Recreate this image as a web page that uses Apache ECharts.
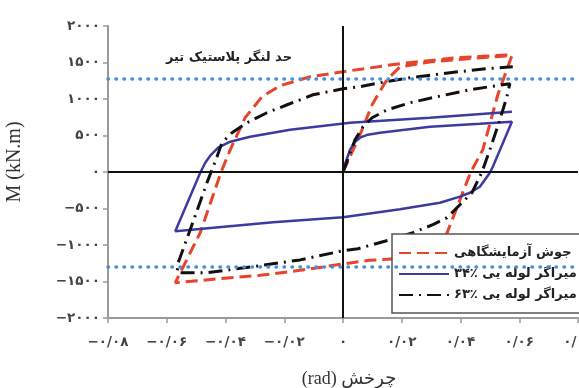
<!DOCTYPE html>
<html>
<head>
<meta charset="utf-8">
<script src="https://cdn.jsdelivr.net/npm/echarts@6/dist/echarts.min.js"></script>
<style>
  html, body { margin: 0; padding: 0; background: #fff; }
  #chart { width: 579px; height: 388px; }
</style>
</head>
<body>
<div id="chart"></div>
<script>
// Axis tick labels (Persian digits)
const xTickValues = [-0.08, -0.06, -0.04, -0.02, 0, 0.02, 0.04, 0.06, 0.08];
const xTickLabels = ['−۰/۰۸', '−۰/۰۶', '−۰/۰۴', '−۰/۰۲', '۰', '۰/۰۲', '۰/۰۴', '۰/۰۶', '۰/۰۸'];
const yTickValues = [-2000, -1500, -1000, -500, 0, 500, 1000, 1500, 2000];
const yTickLabels = ['−۲۰۰۰', '−۱۵۰۰', '−۱۰۰۰', '−۵۰۰', '۰', '۵۰۰', '۱۰۰۰', '۱۵۰۰', '۲۰۰۰'];

// Series names
const seriesNames = ['جوش آزمایشگاهی', 'میراگر لوله یی ٪۳۴', 'میراگر لوله یی ٪۶۳'];

// Welded connection (test): rotation (rad) and moment (kN.m)
const weldRot = [0, 0.0058, 0.0099, 0.0143, 0.0167, 0.0194, 0.03, 0.045, 0.0575,
  0.0527, 0.0476, 0.0435, 0.0354, 0.032, 0.029, 0.025, 0.015, 0.009, 0, -0.0146, -0.0282, -0.0442, -0.0571,
  -0.0486, -0.0415, -0.0384, -0.0333, -0.0276, -0.0214, -0.0112, 0, 0.0194, 0.0388, 0.0575];
const weldMom = [0, 510, 921, 1223, 1333, 1440, 1510, 1560, 1595,
  1058, 305, 0, -837, -1050, -1130, -1165, -1195, -1210, -1260, -1347, -1415, -1470, -1516,
  -831, 0, 304, 745, 1030, 1182, 1305, 1374, 1484, 1566, 1607];

// Pipe damper 34%
const pipe34Rot = [0, 0.0007, 0.0024, 0.0041, 0.0058, 0.0085, 0.0126, 0.0296, 0.0466, 0.0575,
  0.051, 0.05, 0.0466, 0.0432, 0.0398, 0.033, 0.0194, 0, -0.0238, -0.0571,
  -0.0486, -0.0469, -0.0452, -0.0425, -0.0384, -0.0316, -0.018, 0.0024, 0.0296, 0.0575];
const pipe34Mom = [0, 110, 305, 414, 470, 511, 538, 621, 662, 689,
  73, -10, -202, -284, -338, -421, -511, -621, -689, -812,
  -10, 127, 223, 333, 415, 484, 580, 675, 743, 825];

// Pipe damper 63%
const pipe63Rot = [0, 0.0007, 0.0041, 0.0068, 0.0099, 0.015, 0.0228, 0.032, 0.0432, 0.0568,
  0.0558, 0.0534, 0.05, 0.0473, 0.0439, 0.0398, 0.0354, 0.0306, 0.0238, 0.016, 0.0051, 0, -0.0146, -0.0306, -0.0463, -0.0565,
  -0.0561, -0.052, -0.0463, -0.0449, -0.0429, -0.0412, -0.0378, -0.0327, -0.0259, -0.019, -0.0102, 0, 0.0058, 0.0126, 0.0228, 0.0364, 0.049, 0.0578];
const pipe63Mom = [0, 73, 441, 619, 743, 852, 949, 1031, 1127, 1210,
  1033, 715, 305, 0, -284, -448, -626, -722, -832, -928, -1051, -1078, -1204, -1297, -1379, -1379,
  -1241, -789, -145, 0, 210, 401, 538, 674, 812, 921, 1058, 1141, 1169, 1223, 1292, 1360, 1415, 1442];

// Beam plastic moment limits
const plasticLimits = [1280, -1300];

const zip = (a, b) => a.map((v, i) => [v, b[i]]);
const persianFont = '"DejaVu Sans", "Noto Sans", sans-serif';

const chart = echarts.init(document.getElementById('chart'), null, { renderer: 'canvas' });

chart.setOption({
  animation: false,
  backgroundColor: '#ffffff',
  grid: { left: 108, right: 1, top: 26, bottom: 70, containLabel: false, outerBoundsMode: 'none' },
  xAxis: {
    type: 'value', min: -0.08, max: 0.08, interval: 0.02,
    name: '(rad) چرخش', nameLocation: 'middle', nameGap: 52,
    nameTextStyle: { fontFamily: '"Liberation Serif", "DejaVu Sans", serif', fontSize: 18, color: '#333',
                     padding: [0, 0, 0, 12] },
    axisLine: { onZero: false, lineStyle: { color: '#9a9a9a', width: 2 } },
    axisTick: { show: true, length: 5, lineStyle: { color: '#9a9a9a', width: 1.5 } },
    axisLabel: {
      margin: 17, fontFamily: persianFont, fontSize: 13.5, fontWeight: 'bold', color: '#444',
      formatter: v => xTickLabels[xTickValues.findIndex(t => Math.abs(t - v) < 1e-9)] || ''
    },
    splitLine: { show: false }
  },
  yAxis: {
    type: 'value', min: -2000, max: 2000, interval: 500,
    axisLine: { onZero: false, lineStyle: { color: '#9a9a9a', width: 2 } },
    axisTick: { show: true, length: 5, lineStyle: { color: '#9a9a9a', width: 1.5 } },
    axisLabel: {
      margin: 8, fontFamily: persianFont, fontSize: 13.5, fontWeight: 'bold', color: '#444',
      formatter: v => yTickLabels[yTickValues.indexOf(v)] || ''
    },
    splitLine: { show: false }
  },
  legend: {
    data: seriesNames,
    orient: 'vertical',
    left: 392, top: 234,
    padding: [9, 8, 8, 6],
    itemGap: 1,
    itemWidth: 50, itemHeight: 14,
    backgroundColor: '#ffffff',
    borderColor: '#555',
    borderWidth: 1.5,
    itemStyle: { opacity: 0 },
    textStyle: { fontFamily: persianFont, fontSize: 13, fontWeight: 'bold', color: '#222', lineHeight: 20 }
  },
  graphic: [
    {
      type: 'text', x: 15, y: 162, rotation: Math.PI / 2,
      style: { text: 'M (kN.m)', font: '20px "Liberation Serif", serif', fill: '#333',
               textAlign: 'center', textVerticalAlign: 'middle', align: 'center', verticalAlign: 'middle' }
    },
    {
      type: 'text', x: 292, y: 58,
      style: { text: 'حد لنگر پلاستیک تیر', font: 'bold 13px "DejaVu Sans", sans-serif', fill: '#222',
               textAlign: 'right', textVerticalAlign: 'middle', align: 'right', verticalAlign: 'middle' }
    }
  ],
  series: [
    {
      name: 'axes-origin', type: 'line', data: [], silent: true, z: 1,
      markLine: {
        silent: true, symbol: 'none', label: { show: false },
        lineStyle: { color: '#111', width: 2, type: 'solid' },
        data: [{ xAxis: 0 }, { yAxis: 0 }]
      }
    },
    {
      name: seriesNames[0], type: 'line', data: zip(weldRot, weldMom),
      symbol: 'none', z: 3,
      lineStyle: { color: '#e8432b', width: 3, type: [12, 6] },
      itemStyle: { color: '#e8432b' }
    },
    {
      name: seriesNames[1], type: 'line', data: zip(pipe34Rot, pipe34Mom),
      symbol: 'none', z: 3,
      lineStyle: { color: '#3c3ca0', width: 2.5, type: 'solid' },
      itemStyle: { color: '#3c3ca0' }
    },
    {
      name: seriesNames[2], type: 'line', data: zip(pipe63Rot, pipe63Mom),
      symbol: 'none', z: 3,
      lineStyle: { color: '#111111', width: 3, type: [14, 6, 2, 6] },
      itemStyle: { color: '#111111' }
    },
    {
      name: 'plastic-limit', type: 'line', data: [], silent: true, z: 3,
      markLine: {
        silent: true, symbol: 'none', label: { show: false },
        lineStyle: { color: '#4a8fd6', width: 3.5, type: [0.5, 7.5], cap: 'round' },
        data: plasticLimits.map(v => ({ yAxis: v }))
      }
    }
  ]
});
</script>
</body>
</html>
